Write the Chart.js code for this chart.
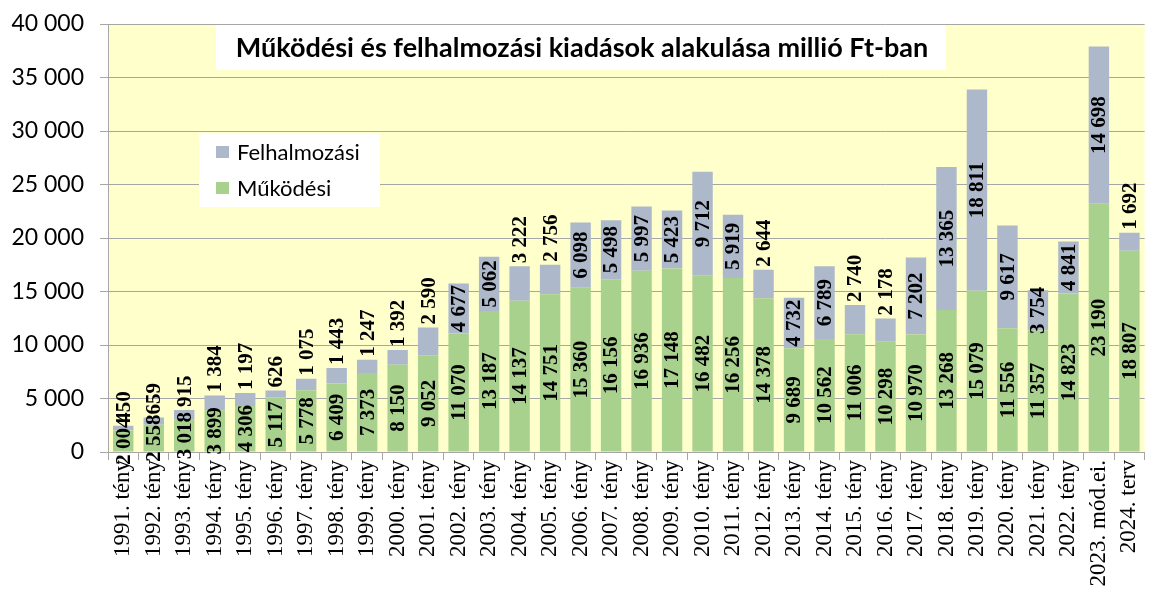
<!DOCTYPE html>
<html>
<head>
<meta charset="utf-8">
<script src="https://cdn.jsdelivr.net/npm/chart.js@4.4.0/dist/chart.umd.min.js"></script>
<style>
  html, body { margin: 0; padding: 0; background: #fff; }
</style>
</head>
<body>
<canvas id="kiadasok" width="1157" height="594"></canvas>
<script>
var categories = ["1991. tény", "1992. tény", "1993. tény", "1994. tény", "1995. tény", "1996. tény", "1997. tény",
  "1998. tény", "1999. tény", "2000. tény", "2001. tény", "2002. tény", "2003. tény", "2004. tény", "2005. tény",
  "2006. tény", "2007. tény", "2008. tény", "2009. tény", "2010. tény", "2011. tény", "2012. tény", "2013. tény",
  "2014. tény", "2015. tény", "2016. tény", "2017. tény", "2018. tény", "2019. tény", "2020. tény", "2021. tény",
  "2022. tény", "2023. mód.ei.", "2024. terv"];

var mukodesi = [2004, 2558, 3018, 3899, 4306, 5117, 5778, 6409, 7373, 8150, 9052, 11070, 13187, 14137, 14751,
  15360, 16156, 16936, 17148, 16482, 16256, 14378, 9689, 10562, 11006, 10298, 10970, 13268, 15079, 11556, 11357,
  14823, 23190, 18807];

var felhalmozasi = [450, 659, 915, 1384, 1197, 626, 1075, 1443, 1247, 1392, 2590, 4677, 5062, 3222, 2756,
  6098, 5498, 5997, 5423, 9712, 5919, 2644, 4732, 6789, 2740, 2178, 7202, 13365, 18811, 9617, 3754,
  4841, 14698, 1692];

var yMax = 40000;
var yStep = 5000;

var chartTitle = "Működési és felhalmozási kiadások alakulása millió Ft-ban";

function fmt(v) {
  return String(v).replace(/\B(?=(\d{3})+(?!\d))/g, " ");
}

// yellow plot area, title box, legend box and the bar labels
var decor = {
  id: 'decor',
  beforeDraw: function (chart) {
    var c = chart.ctx, a = chart.chartArea;
    c.save();
    c.fillStyle = '#FFFFCC';
    c.fillRect(a.left, a.top, a.right - a.left, a.bottom - a.top);
    c.restore();
  },
  afterDatasetsDraw: function (chart) {
    var c = chart.ctx;
    c.save();
    c.font = 'bold 21px "Liberation Serif"';
    c.fillStyle = '#000';
    c.textAlign = 'center';
    c.textBaseline = 'middle';
    chart.data.datasets.forEach(function (ds, di) {
      var meta = chart.getDatasetMeta(di);
      meta.data.forEach(function (bar, i) {
        var txt = fmt(ds.data[i]);
        var w = c.measureText(txt).width;
        var h = bar.base - bar.y;
        var cy = (bar.y + bar.base) / 2;
        // short top segments: label sits above the bar
        if (di === 1 && h < w - 8) {
          cy = bar.y - 3 - w / 2;
        }
        c.save();
        c.translate(bar.x + 1, cy);
        c.rotate(-Math.PI / 2);
        c.fillText(txt, 0, 0);
        c.restore();
      });
    });

    // title
    c.fillStyle = '#fff';
    c.fillRect(216, 25, 730, 45);
    c.fillStyle = '#000';
    c.font = 'bold 27px Lato';
    c.textAlign = 'center';
    c.fillText(chartTitle, 582, 48);

    // legend
    c.fillStyle = '#fff';
    c.fillRect(199, 133, 181, 74);
    c.font = '22px Lato';
    c.textAlign = 'left';
    var items = [[chart.data.datasets[1].label, chart.data.datasets[1].backgroundColor, 152],
                 [chart.data.datasets[0].label, chart.data.datasets[0].backgroundColor, 188]];
    items.forEach(function (it) {
      c.fillStyle = it[1];
      c.fillRect(216, it[2] - 6, 13, 12);
      c.fillStyle = '#000';
      c.fillText(it[0], 237, it[2] + 1);
    });
    c.restore();
  }
};

var ctx = document.getElementById('kiadasok').getContext('2d');
window.myBar = new Chart(ctx, {
  type: 'bar',
  data: {
    labels: categories,
    datasets: [{
      label: "Működési",
      backgroundColor: '#A9D18E',
      borderWidth: 0,
      data: mukodesi
    }, {
      label: "Felhalmozási",
      backgroundColor: '#ADB9CA',
      borderWidth: 0,
      data: felhalmozasi
    }]
  },
  plugins: [decor],
  options: {
    responsive: false,
    animation: false,
    devicePixelRatio: 1,
    layout: { padding: { top: 24, right: 0, left: 0, bottom: 0 } },
    datasets: { bar: { categoryPercentage: 1, barPercentage: 0.67 } },
    plugins: {
      legend: { display: false },
      title: { display: false },
      tooltip: { enabled: false }
    },
    scales: {
      x: {
        stacked: true,
        afterFit: function (s) { s.height = 142; },
        grid: { drawOnChartArea: false, color: '#A6A6A6', tickLength: 8 },
        border: { color: '#A6A6A6' },
        ticks: {
          autoSkip: false, maxRotation: 90, minRotation: 90, padding: 0,
          color: '#000', font: { family: '"Liberation Serif"', size: 23 }
        }
      },
      y: {
        stacked: true,
        min: 0, max: yMax,
        afterFit: function (s) { s.width = 108; s.paddingTop = 0; s.paddingBottom = 0; },
        grid: { color: '#A6A6A6', tickLength: 8 },
        border: { color: '#A6A6A6' },
        ticks: {
          stepSize: yStep, padding: 16, color: '#000',
          font: { family: 'Lato', size: 23 },
          callback: function (v) { return fmt(v); }
        }
      }
    }
  }
});
</script>
</body>
</html>
